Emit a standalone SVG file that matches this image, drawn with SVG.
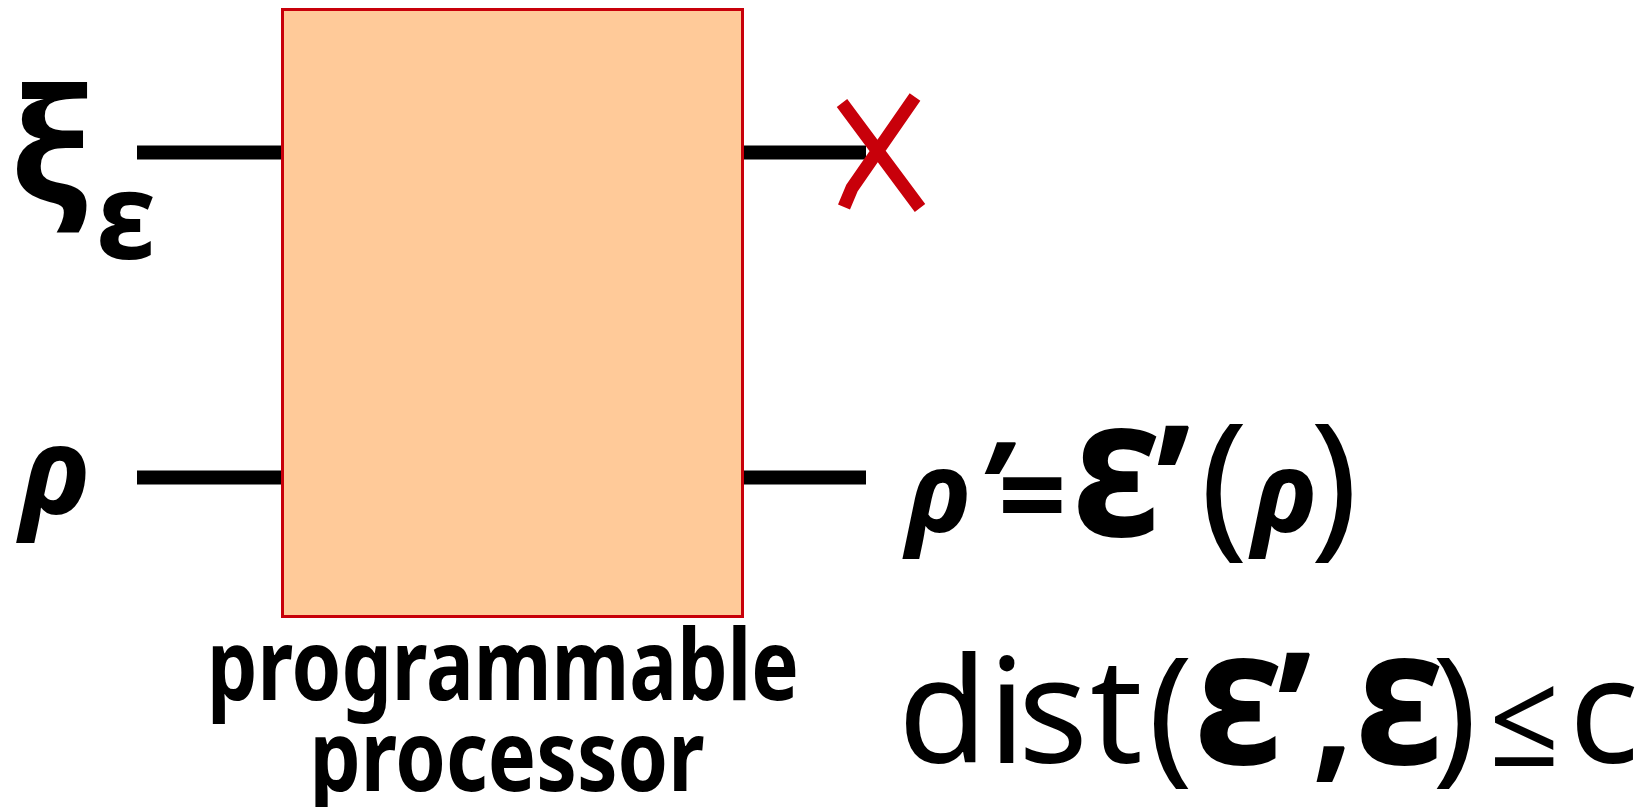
<svg xmlns="http://www.w3.org/2000/svg" width="1645" height="807" viewBox="0 0 1645 807">
<style>
.wire{stroke:#000;stroke-width:14;fill:none}
.t{font-family:"Noto Sans","Open Sans","DejaVu Sans",sans-serif;fill:#000}
.b{font-weight:bold}
.bi{font-weight:bold;font-style:italic}
.r{font-weight:normal}
</style>
<rect width="1645" height="807" fill="#fff"/>
<g id="connectors">
<line class="wire" x1="137" y1="152.5" x2="283" y2="152.5"/>
<line class="wire" x1="137" y1="477.5" x2="283" y2="477.5"/>
<line class="wire" x1="742" y1="152.5" x2="866" y2="152.5"/>
<line class="wire" x1="742" y1="477.5" x2="866" y2="477.5"/>
</g>
<g id="processor">
<rect x="282.5" y="9.5" width="460" height="607" fill="#FFCA99" stroke="#C8000A" stroke-width="3"/>
<text class="t b" x="503" y="700" font-size="98" text-anchor="middle" textLength="592" lengthAdjust="spacingAndGlyphs">programmable</text>
<text class="t b" x="507" y="791" font-size="98" text-anchor="middle" textLength="395" lengthAdjust="spacingAndGlyphs">processor</text>
</g>
<g id="discard">
<path d="M842 103 L920 208 M915 97 L852 188 L844 207" stroke="#C8000A" stroke-width="13" fill="none"/>
</g>
<g id="input-program">
<text class="t b" x="10" y="201" font-size="156">ξ</text>
<text class="t b" x="96" y="259" font-size="120">ε</text>
</g>
<g id="input-state">
<text class="t bi" x="20" y="514" font-size="122">ρ</text>
</g>
<g id="output-state">
<text class="t bi" x="906" y="532" font-size="113">ρ</text>
<text class="t bi" x="978" y="535" font-size="130">’</text>
<text class="t b" x="998" y="538" font-size="120">=</text>
<text class="t b" font-size="194" transform="translate(1072 536) scale(0.92 1)">ε</text>
<text class="t b" x="1156" y="540" font-size="160">’</text>
<text class="t r" x="1200" y="538" font-size="160">(</text>
<text class="t bi" x="1252" y="532" font-size="113">ρ</text>
<text class="t r" x="1310" y="538" font-size="160">)</text>
</g>
<g id="distance">
<text class="t r" font-size="146" x="898 988 1018 1090" y="763">dist</text>
<text class="t r" font-size="150" x="1148" y="765">(</text>
<text class="t b" font-size="190" transform="translate(1194 764) scale(0.94 1)">ε</text>
<text class="t b" font-size="160" x="1277" y="767">’</text>
<text class="t b" font-size="146" x="1312" y="763">,</text>
<text class="t b" font-size="190" transform="translate(1355 764) scale(0.94 1)">ε</text>
<text class="t r" font-size="150" x="1432" y="765">)</text>
<text class="t r" font-size="146" transform="translate(1489 766) scale(0.85 0.9)" x="0" y="0">≤</text>
<text class="t r" font-size="146" x="1569" y="763">c</text>
</g>
</svg>
